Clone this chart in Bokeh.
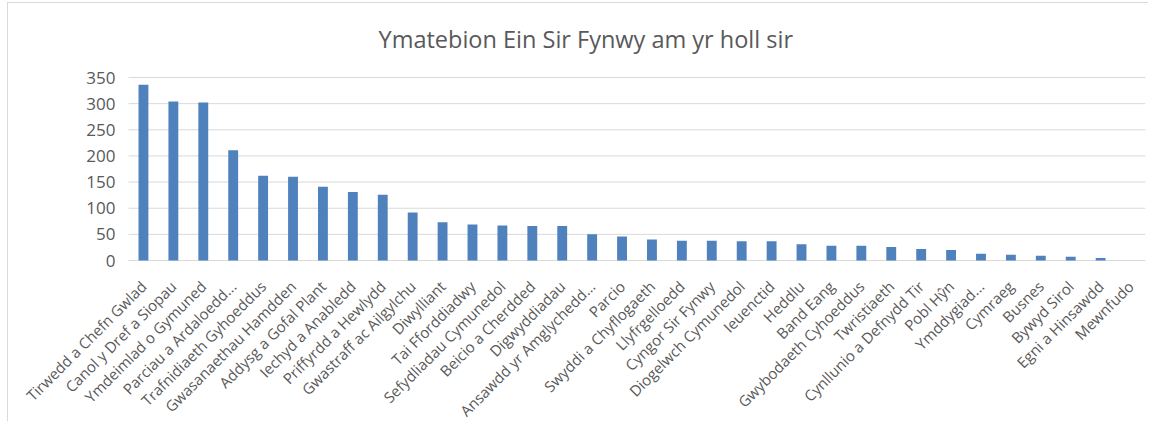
import math
from bokeh.plotting import figure
from bokeh.models import Range1d, FixedTicker, Title
from bokeh.embed import file_html
from bokeh.resources import INLINE

categories = [
    "Tirwedd a Chefn Gwlad", "Canol y Dref a Siopau", "Ymdeimlad o Gymuned",
    "Parciau a Ardaloedd...", "Trafnidiaeth Gyhoeddus", "Gwasanaethau Hamdden",
    "Addysg a Gofal Plant", "Iechyd a Anabledd", "Priffyrdd a Hewlydd",
    "Gwastraff ac Ailgylchu", "Diwylliant", "Tai Fforddiadwy",
    "Sefydliadau Cymunedol", "Beicio a Cherdded", "Digwyddiadau",
    "Ansawdd yr Amglychedd...", "Parcio", "Swyddi a Chyflogaeth",
    "Llyfrgelloedd", "Cyngor Sir Fynwy", "Diogelwch Cymunedol", "Ieuenctid",
    "Heddlu", "Band Eang", "Gwybodaeth Cyhoeddus", "Twristiaeth",
    "Cynllunio a Defnydd Tir", "Pobl Hŷn", "Ymddygiad...", "Cymraeg",
    "Busnes", "Bywyd Sirol", "Egni a Hinsawdd", "Mewnfudo",
]
values = [
    336, 304, 302, 211, 162, 160, 141, 131, 126, 92, 73, 69, 67, 66, 66,
    50, 46, 40, 38, 38, 37, 37, 31, 28, 28, 26, 22, 20, 13, 11, 9, 7, 5, 0,
]
y_ticks = [0, 50, 100, 150, 200, 250, 300, 350]
title_text = "Ymatebion Ein Sir Fynwy am yr holl sir"

FONT = "Open Sans"
GREY = "#595959"

n = len(categories)
positions = [i + 0.5 for i in range(n)]   # category slot centres

# The frame is widened to the left, upwards and downwards so that the
# rotated category labels and tick labels (drawn by fixed-location axes)
# are not clipped; the plotted area itself spans 0..350 over the categories.
p = figure(
    x_range=Range1d(-4.012, n),
    y_range=Range1d(-309.8, 372.95),
    width=1141, height=419,
    output_backend="svg", toolbar_location=None,
    min_border_left=0, min_border_right=4,
    min_border_top=62, min_border_bottom=0,
)
p.title = None
t = Title(text=title_text, align="left", offset=370, standoff=22,
          text_font=FONT, text_font_size="23.5px", text_font_style="normal",
          text_color=GREY)
p.add_layout(t, "above")

# horizontal gridlines over the category area only
p.segment(x0=[0] * len(y_ticks), x1=[n] * len(y_ticks), y0=y_ticks, y1=y_ticks,
          line_color="#d9d9d9", line_width=1)

p.vbar(x=positions, top=values, width=0.33, fill_color="#4f81bd",
       line_color=None)

p.outline_line_color = None
p.xgrid.visible = False
p.ygrid.visible = False

p.yaxis.fixed_location = 0
p.yaxis.ticker = FixedTicker(ticks=y_ticks)
p.yaxis.axis_line_color = None
p.yaxis.major_tick_line_color = None
p.yaxis.minor_tick_line_color = None
p.yaxis.major_label_standoff = 7
p.yaxis.major_label_text_font = FONT
p.yaxis.major_label_text_font_size = "17px"
p.yaxis.major_label_text_color = GREY

p.xaxis.fixed_location = 0
p.xaxis.ticker = FixedTicker(ticks=positions)
p.xaxis.major_label_overrides = {pos: cat for pos, cat in zip(positions, categories)}
p.xaxis.axis_line_color = None
p.xaxis.major_tick_line_color = None
p.xaxis.minor_tick_line_color = None
p.xaxis.major_label_orientation = math.pi / 4
p.xaxis.major_label_standoff = 17
p.xaxis.major_label_text_font = FONT
p.xaxis.major_label_text_font_size = "15px"
p.xaxis.major_label_text_color = GREY

p.styles = {"margin-left": "7px", "margin-top": "2px",
            "border-left": "1px solid #d9d9d9", "border-top": "1px solid #d9d9d9"}

open("out.html", "w").write(file_html(p, INLINE))
